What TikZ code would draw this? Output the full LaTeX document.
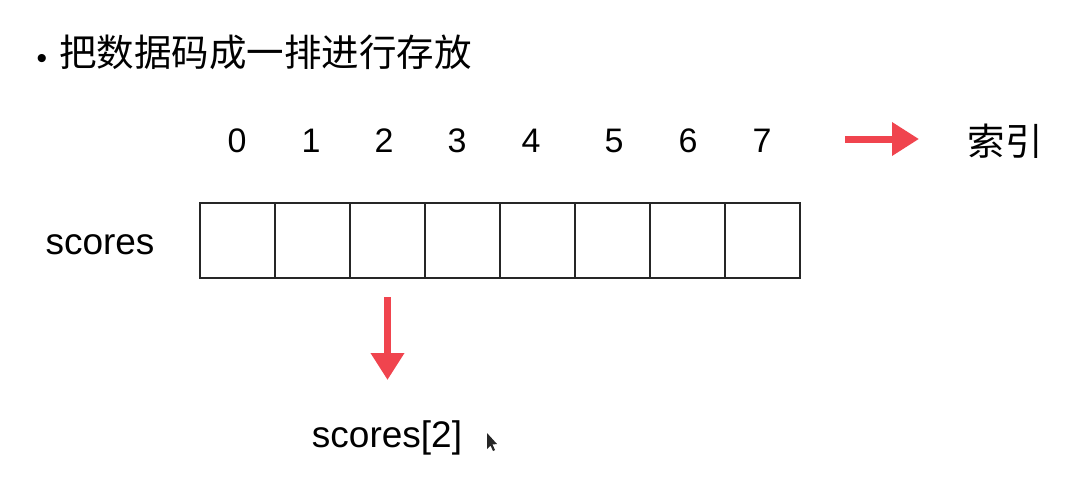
\documentclass[tikz,border=0pt]{standalone}
\usepackage{fontspec}
\setmainfont{Liberation Sans}
\newfontfamily\cjk{Noto Sans CJK SC}
\usetikzlibrary{arrows.meta}
\definecolor{markred}{RGB}{240,68,78}
\tikzset{
  cell/.style={draw=black!85, line width=1.6pt, minimum width=75pt, minimum height=75pt, inner sep=0pt, fill=white},
  digit/.style={font=\fontsize{34}{36}\selectfont, inner sep=0pt},
  lbl/.style={font=\fontsize{37}{40}\selectfont, inner sep=0pt},
  cjklbl/.style={font=\cjk\fontsize{37.5}{40}\selectfont, inner sep=0pt},
  redarrow/.style={draw=markred, line width=7pt, -{Triangle[width=32pt,length=27pt]}, markred}
}
\begin{document}
\begin{tikzpicture}[x=1pt,y=-1pt]
\useasboundingbox[fill=white] (0,0) rectangle (1077,477);
% title
\node[font=\fontsize{30}{32}\selectfont, inner sep=0pt] (bul) at (42,61) {•};
\node[cjklbl, anchor=west] (title) at (59,52) {把数据码成一排进行存放};
% cells
\foreach \i in {0,...,7}{
  \node[cell] (c\i) at ({237.5+75*\i},240.5) {};
}
% index digits
\node[digit] (d0) at (237,141) {0};
\node[digit] (d1) at (311,141) {1};
\node[digit] (d2) at (384,141) {2};
\node[digit] (d3) at (457,141) {3};
\node[digit] (d4) at (531,141) {4};
\node[digit] (d5) at (614,141) {5};
\node[digit] (d6) at (688,141) {6};
\node[digit] (d7) at (762,141) {7};
% labels
\node[lbl] (scores) at (100,245) {scores};
\node[lbl] (s2) at (387,438) {scores[2]};
\node[cjklbl] (idx) at (1005,141) {索引};
% arrows
\coordinate (ra) at (845,139);
\coordinate (rb) at (919,139);
\draw[redarrow] (ra) -- (rb);
\coordinate (da) at (387.5,297);
\coordinate (db) at (387.5,380);
\draw[redarrow] (da) -- (db);
% mouse pointer
\fill[black!85] (487,433) -- (487,449) -- (490.5,445.5) -- (493,451) -- (495,450) -- (492.5,444.5) -- (497,444) -- cycle;
\end{tikzpicture}
\end{document}
